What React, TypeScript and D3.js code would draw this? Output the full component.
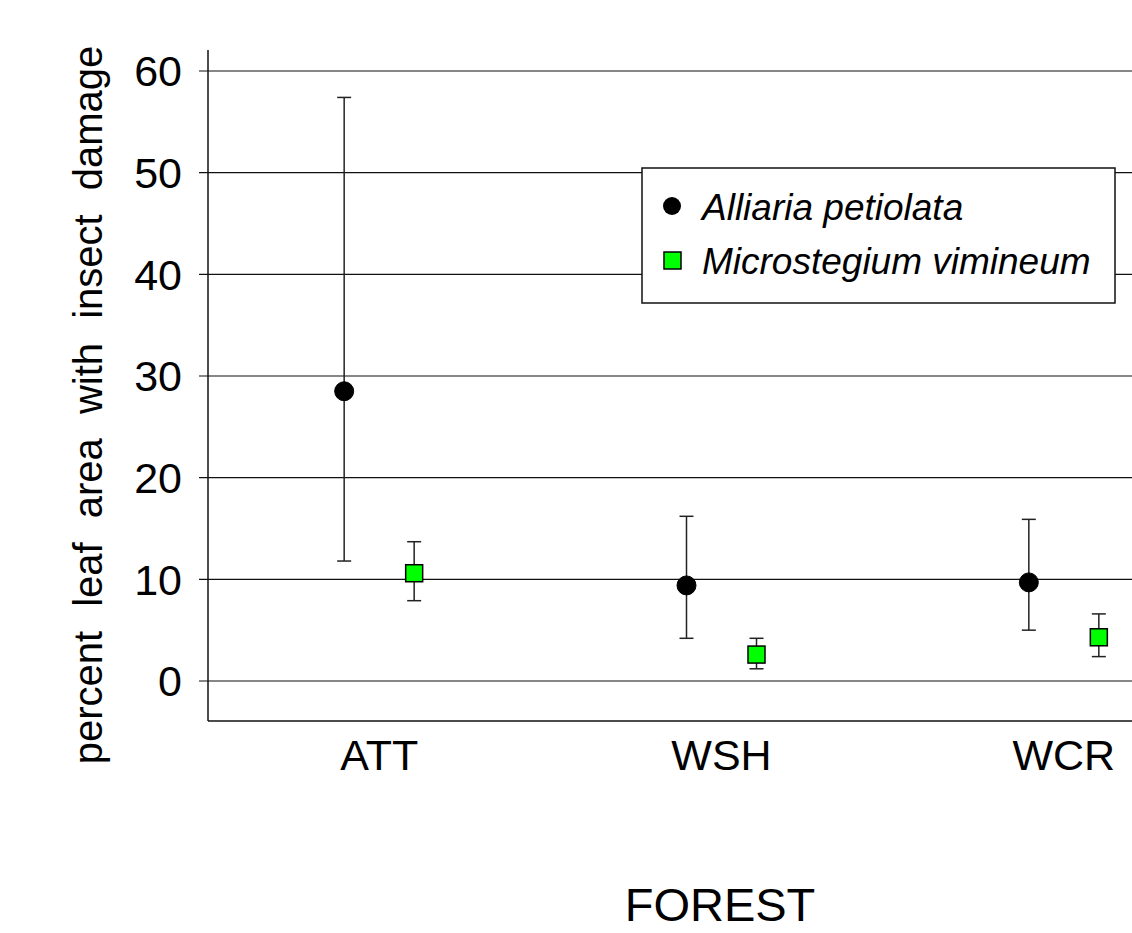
import React from "react";
import * as d3 from "d3";

const categories = ["ATT", "WSH", "WCR"];
const alliariaMean = [28.5, 9.4, 9.7];
const alliariaUpper = [57.4, 16.2, 15.9];
const alliariaLower = [11.8, 4.2, 5.0];
const microMean = [10.6, 2.6, 4.3];
const microUpper = [13.7, 4.2, 6.6];
const microLower = [7.9, 1.2, 2.4];
const yTicks = [0, 10, 20, 30, 40, 50, 60];
const seriesNames = ["Alliaria petiolata", "Microstegium vimineum"];

const W = 1132;
const H = 933;
const left = 208;
const bottom = 721;
const top = 50;
const FONT = "'Liberation Sans', Arial, Helvetica, sans-serif";

export default function App() {
  const x = d3.scalePoint<string>().domain(categories).range([left, 1235]).padding(0.5);
  const y = d3.scaleLinear().domain([0, 60]).range([681, 71]);
  const off = 35;
  const cap = 7;
  const lineColor = "#222";

  const errBar = (cx: number, lo: number, hi: number, key: string) => (
    <g key={key} stroke={lineColor} strokeWidth={1.5}>
      <line x1={cx} x2={cx} y1={y(lo)} y2={y(hi)} />
      <line x1={cx - cap} x2={cx + cap} y1={y(hi)} y2={y(hi)} />
      <line x1={cx - cap} x2={cx + cap} y1={y(lo)} y2={y(lo)} />
    </g>
  );

  return (
    <svg width={W} height={H} style={{ position: "absolute", left: 0, top: 0, background: "#fff" }} fontFamily={FONT}>
      <rect x={0} y={0} width={W} height={H} fill="#fff" />
      {/* gridlines + ticks */}
      {yTicks.map((t) => (
        <g key={t}>
          <line x1={199} x2={W} y1={y(t)} y2={y(t)} stroke="#111" strokeWidth={1.2} />
          <text x={182} y={y(t)} dy="0.36em" textAnchor="end" fontSize={43} fill="#000">
            {t}
          </text>
        </g>
      ))}
      {/* axis frame */}
      <line x1={left} x2={left} y1={top} y2={bottom} stroke="#111" strokeWidth={1.5} />
      <line x1={left} x2={W} y1={bottom} y2={bottom} stroke="#111" strokeWidth={1.5} />

      {/* error bars and markers */}
      {categories.map((c, i) => {
        const cx = x(c)! - off;
        return errBar(cx, alliariaLower[i], alliariaUpper[i], "a" + c);
      })}
      {categories.map((c, i) => {
        const cx = x(c)! + off;
        return errBar(cx, microLower[i], microUpper[i], "m" + c);
      })}
      {categories.map((c, i) => (
        <circle key={"ac" + c} cx={x(c)! - off} cy={y(alliariaMean[i])} r={9.5} fill="#000" stroke="#000" />
      ))}
      {categories.map((c, i) => (
        <rect
          key={"ms" + c}
          x={x(c)! + off - 8.5}
          y={y(microMean[i]) - 8.5}
          width={17}
          height={17}
          fill="#00ff00"
          stroke="#000"
          strokeWidth={1.5}
        />
      ))}

      {/* x category labels */}
      {categories.map((c) => (
        <text key={"xl" + c} x={x(c)!} y={770} textAnchor="middle" fontSize={43} fill="#000">
          {c}
        </text>
      ))}
      <text x={720} y={921} textAnchor="middle" fontSize={47} fill="#000">
        FOREST
      </text>

      {/* y title */}
      <text
        transform={`translate(102, 405) rotate(-90)`}
        textAnchor="middle"
        fontSize={40}
        fill="#000"
        style={{ wordSpacing: "13px" }}
      >
        percent leaf area with insect damage
      </text>

      {/* legend */}
      <g>
        <rect x={642} y={168} width={473} height={135} fill="#fff" stroke="#111" strokeWidth={1.5} />
        <circle cx={672} cy={206} r={9} fill="#000" />
        <rect x={664} y={252} width={17} height={17} fill="#00ff00" stroke="#000" strokeWidth={1.5} />
        <text x={702} y={220} fontSize={37} fontStyle="italic" fill="#000">
          {seriesNames[0]}
        </text>
        <text x={702} y={274} fontSize={37} fontStyle="italic" fill="#000">
          {seriesNames[1]}
        </text>
      </g>
    </svg>
  );
}
